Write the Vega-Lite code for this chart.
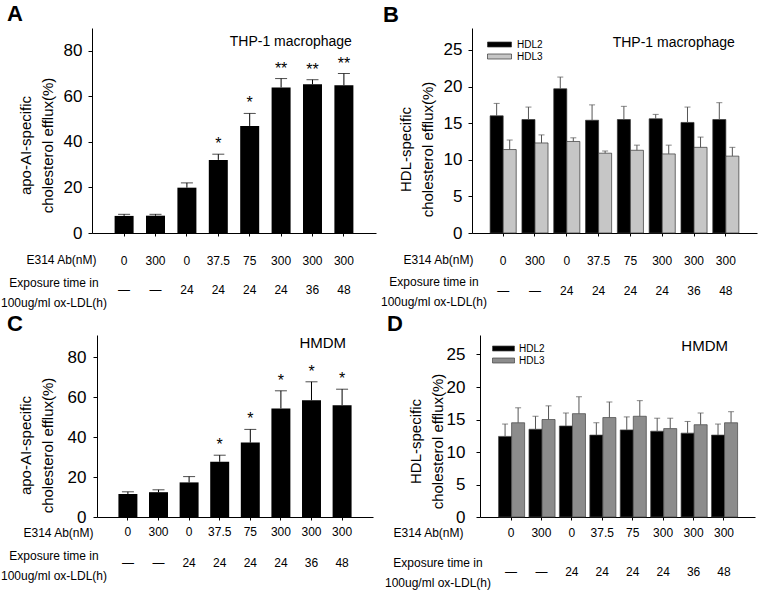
{
  "$schema": "https://vega.github.io/schema/vega-lite/v6.json",
  "background": "white",
  "padding": {"left": 0, "top": 2, "right": 2, "bottom": 2},
  "config": {
    "font": "Liberation Sans",
    "view": {"stroke": null},
    "axis": {"labelColor": "black", "titleColor": "black", "domainColor": "black", "tickColor": "black", "labelFont": "Liberation Sans", "titleFont": "Liberation Sans", "grid": false},
    "axisY": {"tickSize": 4, "labelFontSize": 17, "labelOverlap": false, "titleFontSize": 15, "titleFontWeight": "normal", "titleLineHeight": 22, "titleAlign": "center", "titleBaseline": "alphabetic", "titleAngle": -90},
    "axisX": {"labelFontSize": 12, "titleFontSize": 12, "titleFontWeight": "normal", "titleLineHeight": 20, "labelAngle": 0, "tickSize": 3, "labelBaseline": "alphabetic", "titleAlign": "center", "titleBaseline": "alphabetic"},
    "text": {"font": "Liberation Sans", "color": "black"},
    "legend": {"labelFont": "Liberation Sans", "labelColor": "black"}
  },
  "datasets": {
    "apoThp": [
      {"cond": "0|—", "mean": 7.5, "upper": 8.2, "sig": ""},
      {"cond": "300|—", "mean": 7.6, "upper": 8.2, "sig": ""},
      {"cond": "0|24", "mean": 19.9, "upper": 22.0, "sig": ""},
      {"cond": "37.5|24", "mean": 32.1, "upper": 34.6, "sig": "*"},
      {"cond": "75|24", "mean": 47.0, "upper": 52.5, "sig": "*"},
      {"cond": "300|24", "mean": 63.9, "upper": 67.8, "sig": "**"},
      {"cond": "300|36", "mean": 65.3, "upper": 67.3, "sig": "**"},
      {"cond": "300|48", "mean": 64.9, "upper": 70.0, "sig": "**"}
    ],
    "hdlThp": [
      {"cond": "0|—", "series": "HDL2", "mean": 16.0, "upper": 17.7},
      {"cond": "0|—", "series": "HDL3", "mean": 11.4, "upper": 12.7},
      {"cond": "300|—", "series": "HDL2", "mean": 15.5, "upper": 17.2},
      {"cond": "300|—", "series": "HDL3", "mean": 12.3, "upper": 13.4},
      {"cond": "0|24", "series": "HDL2", "mean": 19.7, "upper": 21.3},
      {"cond": "0|24", "series": "HDL3", "mean": 12.5, "upper": 13.0},
      {"cond": "37.5|24", "series": "HDL2", "mean": 15.4, "upper": 17.5},
      {"cond": "37.5|24", "series": "HDL3", "mean": 10.9, "upper": 11.2},
      {"cond": "75|24", "series": "HDL2", "mean": 15.5, "upper": 17.3},
      {"cond": "75|24", "series": "HDL3", "mean": 11.3, "upper": 12.0},
      {"cond": "300|24", "series": "HDL2", "mean": 15.6, "upper": 16.2},
      {"cond": "300|24", "series": "HDL3", "mean": 10.8, "upper": 12.0},
      {"cond": "300|36", "series": "HDL2", "mean": 15.1, "upper": 17.2},
      {"cond": "300|36", "series": "HDL3", "mean": 11.7, "upper": 13.1},
      {"cond": "300|48", "series": "HDL2", "mean": 15.5, "upper": 17.8},
      {"cond": "300|48", "series": "HDL3", "mean": 10.5, "upper": 11.7}
    ],
    "apoHmdm": [
      {"cond": "0|—", "mean": 11.5, "upper": 12.6, "sig": ""},
      {"cond": "300|—", "mean": 12.4, "upper": 13.6, "sig": ""},
      {"cond": "0|24", "mean": 17.3, "upper": 20.2, "sig": ""},
      {"cond": "37.5|24", "mean": 27.6, "upper": 30.9, "sig": "*"},
      {"cond": "75|24", "mean": 37.2, "upper": 43.8, "sig": "*"},
      {"cond": "300|24", "mean": 54.3, "upper": 63.1, "sig": "*"},
      {"cond": "300|36", "mean": 58.4, "upper": 67.6, "sig": "*"},
      {"cond": "300|48", "mean": 55.9, "upper": 63.9, "sig": "*"}
    ],
    "hdlHmdm": [
      {"cond": "0|—", "series": "HDL2", "mean": 12.4, "upper": 14.3},
      {"cond": "0|—", "series": "HDL3", "mean": 14.5, "upper": 16.8},
      {"cond": "300|—", "series": "HDL2", "mean": 13.5, "upper": 15.5},
      {"cond": "300|—", "series": "HDL3", "mean": 15.0, "upper": 17.1},
      {"cond": "0|24", "series": "HDL2", "mean": 14.0, "upper": 16.0},
      {"cond": "0|24", "series": "HDL3", "mean": 15.9, "upper": 18.5},
      {"cond": "37.5|24", "series": "HDL2", "mean": 12.6, "upper": 14.5},
      {"cond": "37.5|24", "series": "HDL3", "mean": 15.3, "upper": 17.7},
      {"cond": "75|24", "series": "HDL2", "mean": 13.4, "upper": 15.4},
      {"cond": "75|24", "series": "HDL3", "mean": 15.5, "upper": 17.9},
      {"cond": "300|24", "series": "HDL2", "mean": 13.2, "upper": 15.2},
      {"cond": "300|24", "series": "HDL3", "mean": 13.6, "upper": 15.2},
      {"cond": "300|36", "series": "HDL2", "mean": 12.9, "upper": 14.7},
      {"cond": "300|36", "series": "HDL3", "mean": 14.2, "upper": 16.0},
      {"cond": "300|48", "series": "HDL2", "mean": 12.6, "upper": 14.3},
      {"cond": "300|48", "series": "HDL3", "mean": 14.5, "upper": 16.2}
    ],
    "labelThp": [{"label": "THP-1 macrophage"}],
    "labelHmdm": [{"label": "HMDM"}]
  },
  "resolve": {"scale": {"color": "independent"}, "legend": {"color": "independent"}},
  "spacing": 4,
  "vconcat": [
    {
      "bounds": "flush",
      "spacing": 96,
      "resolve": {"scale": {"color": "independent"}, "legend": {"color": "independent"}},
      "hconcat": [
        {
          "width": 284, "height": 205,
          "title": {"text": "A", "anchor": "start", "frame": "group", "dx": -85, "offset": -14.5, "baseline": "alphabetic", "fontSize": 22, "fontWeight": "bold", "font": "Liberation Sans", "color": "black"},
          "data": {"name": "apoThp"},
          "resolve": {"axis": {"x": "independent"}},
          "layer": [
            {
              "mark": {"type": "bar", "color": "black"},
              "encoding": {
                "x": {"field": "cond", "type": "nominal", "sort": null,
                  "scale": {"domain": ["0|—", "300|—", "0|24", "37.5|24", "75|24", "300|24", "300|36", "300|48"], "paddingInner": 0.395, "paddingOuter": 0.72},
                  "axis": {"orient": "bottom", "labelExpr": "split(datum.value, '|')", "labelLineHeight": 29, "labelPadding": 28, "title": "E314 Ab(nM)", "titleX": -31, "titleY": 30}},
                "y": {"field": "mean", "type": "quantitative", "scale": {"domain": [0, 90], "nice": false},
                  "axis": {"values": [0, 20, 40, 60, 80], "labelOverlap": false, "labelPadding": 6, "title": ["apo-AI-specific", "cholesterol efflux(%)"], "titleX": -62, "titleY": 117}}
              }
            },
            {
              "mark": {"type": "rule", "color": "black"},
              "encoding": {
                "x": {"field": "cond", "type": "nominal", "sort": null,
                  "axis": {"orient": "bottom", "domain": false, "ticks": false, "labels": false, "title": ["Exposure time in", "100ug/ml ox-LDL(h)"], "titleX": -38.5, "titleY": 53}},
                "y": {"field": "mean", "type": "quantitative"},
                "y2": {"field": "upper"}
              }
            },
            {
              "mark": {"type": "tick", "color": "black", "size": 12, "thickness": 1},
              "encoding": {
                "x": {"field": "cond", "type": "nominal", "sort": null, "axis": null},
                "y": {"field": "upper", "type": "quantitative"}
              }
            },
            {
              "mark": {"type": "text", "baseline": "alphabetic", "dy": -5, "fontSize": 16},
              "encoding": {
                "x": {"field": "cond", "type": "nominal", "sort": null, "axis": null},
                "y": {"field": "upper", "type": "quantitative"},
                "text": {"field": "sig"}
              }
            },
            {
              "data": {"name": "labelThp"},
              "mark": {"type": "text", "align": "right", "baseline": "alphabetic", "dx": 8, "fontSize": 14},
              "encoding": {
                "x": {"datum": "300|48", "type": "nominal", "axis": null},
                "y": {"datum": 82, "type": "quantitative"},
                "text": {"field": "label"}
              }
            }
          ]
        },
        {
          "width": 285, "height": 205,
          "title": {"text": "B", "anchor": "start", "frame": "group", "dx": -89, "offset": -16, "baseline": "alphabetic", "fontSize": 22, "fontWeight": "bold", "font": "Liberation Sans", "color": "black"},
          "data": {"name": "hdlThp"},
          "resolve": {"axis": {"x": "independent"}},
          "layer": [
            {
              "mark": {"type": "bar", "stroke": "#333333", "strokeWidth": 0.7},
              "encoding": {
                "x": {"field": "cond", "type": "nominal", "sort": null,
                  "scale": {"domain": ["0|—", "300|—", "0|24", "37.5|24", "75|24", "300|24", "300|36", "300|48"], "paddingInner": 0.18, "paddingOuter": 0.57},
                  "axis": {"orient": "bottom", "labelExpr": "split(datum.value, '|')", "labelLineHeight": 30, "labelPadding": 28, "title": "E314 Ab(nM)", "titleX": -34, "titleY": 30}},
                "xOffset": {"field": "series", "type": "nominal", "scale": {"paddingInner": 0, "paddingOuter": 0}},
                "y": {"field": "mean", "type": "quantitative", "scale": {"domain": [0, 28], "nice": false},
                  "axis": {"values": [0, 5, 10, 15, 20, 25], "labelOverlap": false, "labelPadding": 6, "title": ["HDL-specific", "cholesterol efflux(%)"], "titleX": -62, "titleY": 121}},
                "color": {"field": "series", "type": "nominal", "scale": {"domain": ["HDL2", "HDL3"], "range": ["#000000", "#c6c6c6"]},
                  "legend": {"title": null, "orient": "none", "legendX": 22, "legendY": 11, "symbolType": "M-2.4,-0.5H2.4V0.5H-2.4Z", "symbolSize": 100, "symbolStrokeColor": "#333333", "symbolStrokeWidth": 0.7, "labelFontSize": 10, "labelOffset": 12, "rowPadding": 1, "padding": 0}}
              }
            },
            {
              "mark": {"type": "rule", "color": "#555555"},
              "encoding": {
                "x": {"field": "cond", "type": "nominal", "sort": null,
                  "axis": {"orient": "bottom", "domain": false, "ticks": false, "labels": false, "title": ["Exposure time in", "100ug/ml ox-LDL(h)"], "titleX": -38.5, "titleY": 52}},
                "xOffset": {"field": "series", "type": "nominal"},
                "y": {"field": "mean", "type": "quantitative"},
                "y2": {"field": "upper"}
              }
            },
            {
              "mark": {"type": "tick", "color": "#555555", "size": 6, "thickness": 1},
              "encoding": {
                "x": {"field": "cond", "type": "nominal", "sort": null, "axis": null},
                "xOffset": {"field": "series", "type": "nominal"},
                "y": {"field": "upper", "type": "quantitative"}
              }
            },
            {
              "data": {"name": "labelThp"},
              "mark": {"type": "text", "align": "right", "baseline": "alphabetic", "dx": 9, "fontSize": 14},
              "encoding": {
                "x": {"datum": "300|48", "type": "nominal", "axis": null},
                "y": {"datum": 25.4, "type": "quantitative"},
                "text": {"field": "label"}
              }
            }
          ]
        }
      ]
    },
    {
      "bounds": "flush",
      "spacing": 107,
      "resolve": {"scale": {"color": "independent"}, "legend": {"color": "independent"}},
      "hconcat": [
        {
          "width": 281, "height": 182,
          "title": {"text": "C", "anchor": "start", "frame": "group", "dx": -85, "offset": -17.5, "baseline": "alphabetic", "fontSize": 22, "fontWeight": "bold", "font": "Liberation Sans", "color": "black"},
          "data": {"name": "apoHmdm"},
          "resolve": {"axis": {"x": "independent"}},
          "layer": [
            {
              "mark": {"type": "bar", "color": "black"},
              "encoding": {
                "x": {"field": "cond", "type": "nominal", "sort": null,
                  "scale": {"domain": ["0|—", "300|—", "0|24", "37.5|24", "75|24", "300|24", "300|36", "300|48"], "range": [5, 281], "paddingInner": 0.38, "paddingOuter": 0.7},
                  "axis": {"orient": "bottom", "labelExpr": "split(datum.value, '|')", "labelLineHeight": 31, "labelPadding": 15, "title": "E314 Ab(nM)", "titleX": -34, "titleY": 19.5}},
                "y": {"field": "mean", "type": "quantitative", "scale": {"domain": [0, 91], "nice": false},
                  "axis": {"offset": -5, "values": [0, 20, 40, 60, 80], "labelOverlap": false, "labelPadding": 7, "title": ["apo-AI-specific", "cholesterol efflux(%)"], "titleX": -67, "titleY": 110}}
              }
            },
            {
              "mark": {"type": "rule", "color": "black"},
              "encoding": {
                "x": {"field": "cond", "type": "nominal", "sort": null,
                  "axis": {"orient": "bottom", "domain": false, "ticks": false, "labels": false, "title": ["Exposure time in", "100ug/ml ox-LDL(h)"], "titleX": -38.5, "titleY": 42}},
                "y": {"field": "mean", "type": "quantitative"},
                "y2": {"field": "upper"}
              }
            },
            {
              "mark": {"type": "tick", "color": "black", "size": 12, "thickness": 1},
              "encoding": {
                "x": {"field": "cond", "type": "nominal", "sort": null, "axis": null},
                "y": {"field": "upper", "type": "quantitative"}
              }
            },
            {
              "mark": {"type": "text", "baseline": "alphabetic", "dy": -5, "fontSize": 16},
              "encoding": {
                "x": {"field": "cond", "type": "nominal", "sort": null, "axis": null},
                "y": {"field": "upper", "type": "quantitative"},
                "text": {"field": "sig"}
              }
            },
            {
              "data": {"name": "labelHmdm"},
              "mark": {"type": "text", "align": "right", "baseline": "alphabetic", "dx": 4, "fontSize": 15},
              "encoding": {
                "x": {"datum": "300|48", "type": "nominal", "axis": null},
                "y": {"datum": 84.5, "type": "quantitative"},
                "text": {"field": "label"}
              }
            }
          ]
        },
        {
          "width": 275, "height": 182,
          "title": {"text": "D", "anchor": "start", "frame": "group", "dx": -93, "offset": -18, "baseline": "alphabetic", "fontSize": 22, "fontWeight": "bold", "font": "Liberation Sans", "color": "black"},
          "data": {"name": "hdlHmdm"},
          "resolve": {"axis": {"x": "independent"}},
          "layer": [
            {
              "mark": {"type": "bar", "stroke": "#444444", "strokeWidth": 0.7},
              "encoding": {
                "x": {"field": "cond", "type": "nominal", "sort": null,
                  "scale": {"domain": ["0|—", "300|—", "0|24", "37.5|24", "75|24", "300|24", "300|36", "300|48"], "paddingInner": 0.18, "paddingOuter": 0.61},
                  "axis": {"orient": "bottom", "labelExpr": "split(datum.value, '|')", "labelLineHeight": 39, "labelPadding": 16, "title": "E314 Ab(nM)", "titleX": -52, "titleY": 19}},
                "xOffset": {"field": "series", "type": "nominal", "scale": {"paddingInner": 0, "paddingOuter": 0}},
                "y": {"field": "mean", "type": "quantitative", "scale": {"domain": [0, 28], "nice": false},
                  "axis": {"values": [0, 5, 10, 15, 20, 25], "tickCount": 6, "labelOverlap": false, "labelPadding": 11, "title": ["HDL-specific", "cholesterol efflux(%)"], "titleX": -60, "titleY": 106}},
                "color": {"field": "series", "type": "nominal", "scale": {"domain": ["HDL2", "HDL3"], "range": ["#000000", "#8c8c8c"]},
                  "legend": {"title": null, "orient": "none", "legendX": 18, "legendY": 8, "symbolType": "M-2.2,-0.5H2.2V0.5H-2.2Z", "symbolSize": 100, "symbolStrokeColor": "#444444", "symbolStrokeWidth": 0.7, "labelFontSize": 10, "labelOffset": 10, "rowPadding": 1, "padding": 0}}
              }
            },
            {
              "mark": {"type": "rule", "color": "#555555"},
              "encoding": {
                "x": {"field": "cond", "type": "nominal", "sort": null,
                  "axis": {"orient": "bottom", "domain": false, "ticks": false, "labels": false, "title": ["Exposure time in", "100ug/ml ox-LDL(h)"], "titleX": -42.5, "titleY": 49}},
                "xOffset": {"field": "series", "type": "nominal"},
                "y": {"field": "mean", "type": "quantitative"},
                "y2": {"field": "upper"}
              }
            },
            {
              "mark": {"type": "tick", "color": "#555555", "size": 6, "thickness": 1},
              "encoding": {
                "x": {"field": "cond", "type": "nominal", "sort": null, "axis": null},
                "xOffset": {"field": "series", "type": "nominal"},
                "y": {"field": "upper", "type": "quantitative"}
              }
            },
            {
              "data": {"name": "labelHmdm"},
              "mark": {"type": "text", "align": "right", "baseline": "alphabetic", "dx": 4, "fontSize": 15},
              "encoding": {
                "x": {"datum": "300|48", "type": "nominal", "axis": null},
                "y": {"datum": 25.6, "type": "quantitative"},
                "text": {"field": "label"}
              }
            }
          ]
        }
      ]
    }
  ]
}
